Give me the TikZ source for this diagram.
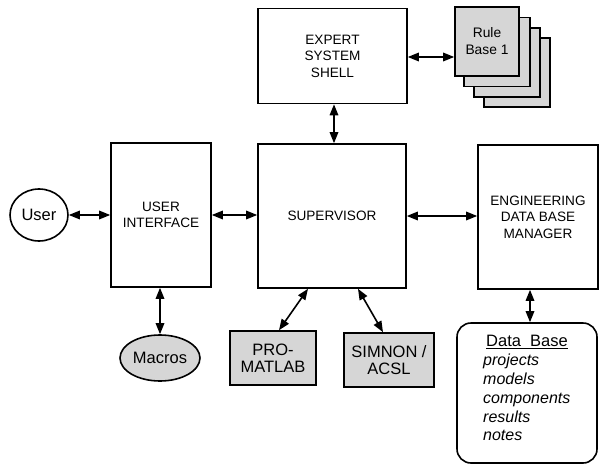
\documentclass[tikz,border=0pt]{standalone}
\usepackage{fontspec}
\setmainfont{Liberation Sans}
\usetikzlibrary{shapes.geometric,arrows.meta,calc}
\begin{document}
\begin{tikzpicture}[x=1pt,y=-1pt,
  box/.style={draw,line width=1.6pt,rectangle,inner sep=0pt,align=center,
     font=\fontsize{13.6}{16.5}\selectfont},
  shade/.style={fill=black!16},
  sbox/.style={box,shade,font=\fontsize{16.5}{17}\selectfont},
  oval/.style={draw,line width=1.6pt,ellipse,inner sep=0pt,
     font=\fontsize{16.5}{18}\selectfont},
  arr/.style={line width=1.6pt,{Triangle[length=11pt,width=8.5pt]}-{Triangle[length=11pt,width=8.5pt]}},
  lbl/.style={inner sep=0pt}]
\useasboundingbox (0,0) rectangle (600,466);
% Expert system shell
\node[box,minimum width=149pt,minimum height=95pt] (shell) at (332.5,56) {EXPERT\\SYSTEM\\SHELL};
% Rule base stack
\node[box,shade,minimum width=66pt,minimum height=69pt] (rb4) at (517,72.5) {};
\node[box,shade,minimum width=66pt,minimum height=69pt] (rb3) at (507,62.5) {};
\node[box,shade,minimum width=66pt,minimum height=69pt] (rb2) at (497,52) {};
\node[box,shade,minimum width=64pt,minimum height=69pt,
      font=\fontsize{13.8}{17}\selectfont] (rule) at (487,41.5) {Rule\\Base 1};
% Main row
\node[oval,minimum width=58pt,minimum height=52pt] (user) at (39,215) {User};
\node[box,minimum width=100pt,minimum height=144pt] (ui) at (161,215) {USER\\INTERFACE};
\node[box,minimum width=148pt,minimum height=144pt] (sup) at (332,216) {SUPERVISOR};
\node[box,minimum width=120pt,minimum height=144pt] (edbm) at (538,217) {ENGINEERING\\DATA BASE\\MANAGER};
% Bottom row
\node[oval,shade,minimum width=80pt,minimum height=46pt] (macros) at (160,358) {Macros};
\node[sbox,minimum width=86pt,minimum height=54pt] (pro) at (273,358) {PRO-\\MATLAB};
\node[sbox,minimum width=90pt,minimum height=54pt] (sim) at (389,360) {SIMNON /\\ACSL};
\node[draw,line width=1.6pt,rounded corners=14pt,minimum width=140pt,minimum height=140pt,inner sep=0pt] (db) at (527,393) {};
\node[lbl,font=\fontsize{16.5}{18}\selectfont] (dbt) at (527,342) {\underline{Data\ \ Base}};
\node[lbl,anchor=north west,align=left,font=\fontsize{16}{18.8}\selectfont\itshape] (dbl) at (483,354)
  {projects\\models\\components\\results\\notes};
% Connectors
\coordinate (edbmout) at ($(edbm.south)+(-8,0)$);
\coordinate (dbin) at (edbmout |- db.north);
\draw[arr] (shell.east |- 0,57) -- (rule.west |- 0,57);
\draw[arr] (shell.south -| 334,0) -- (sup.north -| 334,0);
\draw[arr] (user.east) -- (ui.west);
\draw[arr] (ui.east) -- (ui.east -| sup.west);
\draw[arr] (sup.east) -- (sup.east -| edbm.west);
\draw[arr] (macros.north |- ui.south) -- (macros.north);
\draw[arr] ($(sup.south)+(-24,0)$) -- ($(pro.north)+(6,0)$);
\draw[arr] ($(sup.south)+(26,0)$) -- ($(sim.north)+(-6,0)$);
\draw[arr] (edbmout) -- (dbin);
\end{tikzpicture}
\end{document}
